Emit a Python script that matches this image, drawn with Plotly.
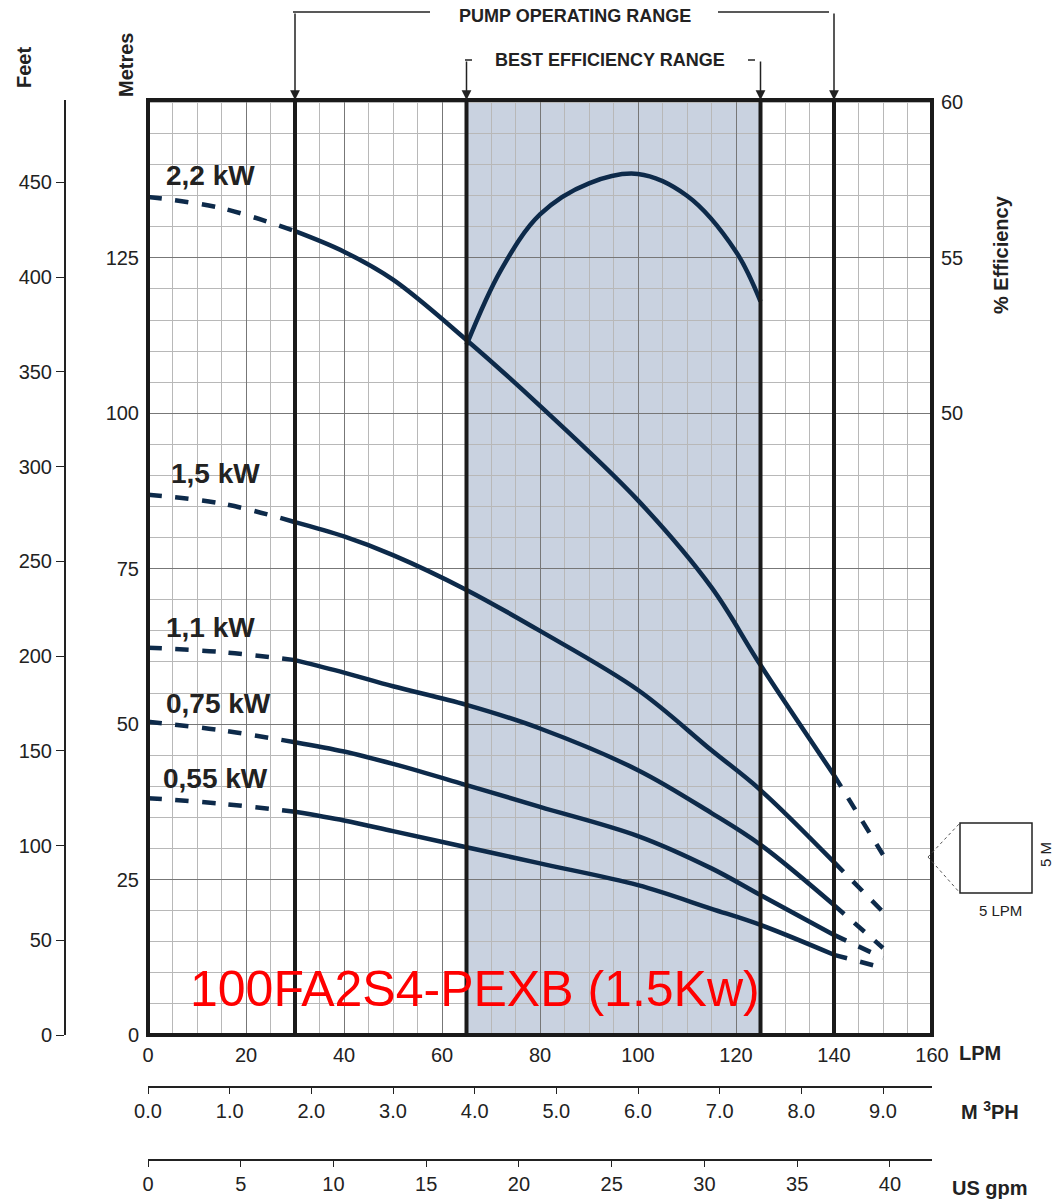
import plotly.graph_objects as go

# flow points (LPM) shared by all pump curves
lpm = [0, 15, 30, 40, 50, 65, 80, 100, 115, 125, 140, 150]

# head in metres per motor size
head_22 = [134.8, 133, 129.3, 126, 121.5, 111.8, 101.2, 86, 72, 59.5, 41.8, 29]
head_15 = [86.9, 85.5, 82.5, 80.2, 77.2, 71.6, 65, 55.5, 45.8, 39.4, 27.8, 19.8]
head_11 = [62.3, 61.6, 60.3, 58.3, 56.1, 53.1, 49.3, 42.6, 35.7, 30.6, 20.9, 14]
head_075 = [50.4, 49, 47.1, 45.6, 43.6, 40.2, 36.7, 32.0, 26.8, 22.5, 16.1, 12.4]
head_055 = [38.1, 37.2, 35.9, 34.5, 32.8, 30.2, 27.6, 24.1, 20.3, 17.7, 12.9, 10.8]
curve_names = ['2,2 kW', '1,5 kW', '1,1 kW', '0,75 kW', '0,55 kW']

# efficiency curve (%)
eff_lpm = [65, 72, 80, 90, 100, 110, 120, 125]
eff_pct = [52.2, 54.6, 56.4, 57.4, 57.7, 57.0, 55.2, 53.6]

# ranges (LPM)
operating_range = [30, 140]
best_range = [65, 125]

# label positions for the kW labels (LPM, metres)
label_x = [12.7, 13.7, 12.7, 14.3, 13.7]
label_y = [138.2, 90.4, 65.6, 53.4, 41.3]

feet_ticks = [0, 50, 100, 150, 200, 250, 300, 350, 400, 450]

navy = '#0d2a4a'
W, H = 1063, 1200
X0, X1, YT, YB = 148, 932, 100, 1035
OFF = 8  # page body margin


def px(x):
    return (x - OFF) / W


def py(y):
    return 1 - (y - OFF) / H


fig = go.Figure()

heads = [head_22, head_15, head_11, head_075, head_055]
for name, h in zip(curve_names, heads):
    # dashed start, solid middle, dashed end
    fig.add_trace(go.Scatter(x=lpm[:3], y=h[:3], mode='lines', line_shape='spline',
                             line=dict(color=navy, width=4.5, dash='dash')))
    fig.add_trace(go.Scatter(x=lpm[2:11], y=h[2:11], mode='lines', line_shape='spline',
                             line=dict(color=navy, width=4.5)))
    fig.add_trace(go.Scatter(x=lpm[10:], y=h[10:], mode='lines', line_shape='spline',
                             line=dict(color=navy, width=4.5, dash='dash')))

fig.add_trace(go.Scatter(x=eff_lpm, y=eff_pct, mode='lines', line_shape='spline',
                         line=dict(color=navy, width=4.5), yaxis='y3'))
# dummy traces so the extra axes render
fig.add_trace(go.Scatter(x=[0], y=[0], yaxis='y2', mode='markers', marker_opacity=0))
fig.add_trace(go.Scatter(x=[0], y=[0], xaxis='x2', mode='markers', marker_opacity=0))
fig.add_trace(go.Scatter(x=[0], y=[0], xaxis='x3', mode='markers', marker_opacity=0))

font = 'Liberation Sans, Arial, sans-serif'
tick_font = dict(family=font, size=20, color='#222')
grid_minor = dict(dtick=5, showgrid=True, gridcolor='#b8b8b8', gridwidth=1)

fig.update_layout(
    width=W, height=H, showlegend=False,
    margin=dict(l=0, r=0, t=0, b=0, pad=0),
    plot_bgcolor='white', paper_bgcolor='white',
    font=dict(family=font),
    xaxis=dict(domain=[px(X0), px(X1)], range=[0, 160], tickvals=list(range(0, 161, 20)),
               showgrid=True, gridcolor='#777', gridwidth=1, minor=grid_minor,
               zeroline=False, tickfont=tick_font, ticks='', ticklabelstandoff=6,
               automargin=False),
    xaxis2=dict(overlaying='x', anchor='free', position=py(1087), range=[0, 9.6],
                tickvals=list(range(0, 10)), tickformat='.1f', showline=True,
                linecolor='#222', linewidth=2, ticks='outside', ticklen=6,
                tickcolor='#222', showgrid=False, zeroline=False, side='bottom',
                tickfont=tick_font, automargin=False),
    xaxis3=dict(overlaying='x', anchor='free', position=py(1160), range=[0, 160 / 3.78541],
                tickvals=list(range(0, 41, 5)), showline=True, linecolor='#222',
                linewidth=2, ticks='outside', ticklen=6, tickcolor='#222',
                showgrid=False, zeroline=False, side='bottom', tickfont=tick_font,
                automargin=False),
    yaxis=dict(domain=[py(YB), py(YT)], range=[0, 150.4], tickvals=[0, 25, 50, 75, 100, 125],
               showgrid=True, gridcolor='#777', gridwidth=1, minor=grid_minor,
               zeroline=False, tickfont=tick_font, ticks='', ticklabelstandoff=8,
               automargin=False),
    yaxis2=dict(overlaying='y', anchor='free', position=px(65), side='left',
                range=[0, 150.4 / 0.3048], tickvals=feet_ticks, showline=True,
                linecolor='#222', linewidth=2, ticks='outside', ticklen=8,
                tickcolor='#222', showgrid=False, zeroline=False, tickfont=tick_font,
                automargin=False),
    yaxis3=dict(overlaying='y', anchor='x', side='right', range=[30, 60.08],
                tickvals=[50, 55, 60], showgrid=False, zeroline=False,
                tickfont=tick_font, ticks='', ticklabelstandoff=8, automargin=False),
)

shapes = [
    dict(type='rect', xref='x', yref='paper', x0=best_range[0], x1=best_range[1],
         y0=py(YB), y1=py(YT), fillcolor='#c9d2e0', line_width=0, layer='below'),
]
for v in operating_range + best_range:
    shapes.append(dict(type='line', xref='x', yref='paper', x0=v, x1=v,
                       y0=py(YB), y1=py(YT), line=dict(color='#1a1a1a', width=4)))
shapes.append(dict(type='rect', xref='paper', yref='paper', x0=px(X0), x1=px(X1),
                   y0=py(YB), y1=py(YT), line=dict(color='#1a1a1a', width=4)))
# bracket lines above the plot
for a, b, yy in [(293, 430, 12), (718, 829, 12), (465, 472, 60), (748, 755, 60)]:
    shapes.append(dict(type='line', xref='paper', yref='paper', x0=px(a), x1=px(b),
                       y0=py(yy), y1=py(yy), line=dict(color='#222', width=1.5)))
# scale box
shapes.append(dict(type='rect', xref='paper', yref='paper', x0=px(960), x1=px(1032),
                   y0=py(893), y1=py(823), line=dict(color='#222', width=1.5)))
for yy in [823, 893]:
    shapes.append(dict(type='line', xref='paper', yref='paper', x0=px(928), x1=px(960),
                       y0=py(857), y1=py(yy), line=dict(color='#555', width=1, dash='dot')))
fig.update_layout(shapes=shapes)

ann = []
for v, length in [(operating_range[0], 88), (operating_range[1], 88),
                  (best_range[0], 40), (best_range[1], 40)]:
    ann.append(dict(x=v, xref='x', y=py(YT), yref='paper', ax=0, ay=-length,
                    showarrow=True, arrowhead=2, arrowsize=1.3, arrowwidth=1.5,
                    arrowcolor='#222', text=''))
texts = [
    (575, 16, '<b>PUMP OPERATING RANGE</b>', 0, 18),
    (610, 60, '<b>BEST EFFICIENCY RANGE</b>', 0, 18),
    (24, 68, '<b>Feet</b>', -90, 20),
    (126, 65, '<b>Metres</b>', -90, 20),
    (1001, 255, '<b>% Efficiency</b>', -90, 20),
    (980, 1053, '<b>LPM</b>', 0, 20),
    (990, 1110, '<b>M <sup>3</sup>PH</b>', 0, 20),
    (990, 1188, '<b>US gpm</b>', 0, 20),
    (1045, 855, '5 M', -90, 15),
    (1000, 911, '5 LPM', 0, 15),
]
for x, y, t, ang, size in texts:
    ann.append(dict(x=px(x), y=py(y), xref='paper', yref='paper', showarrow=False,
                    text=t, textangle=ang, xanchor='center', yanchor='middle',
                    font=dict(size=size, color='#222')))
for name, x, y in zip(curve_names, label_x, label_y):
    ann.append(dict(x=x, y=y, xref='x', yref='y', showarrow=False, text='<b>%s</b>' % name,
                    xanchor='center', yanchor='middle', font=dict(size=28, color='#222')))
ann.append(dict(x=66.7, y=7.4, xref='x', yref='y', showarrow=False,
                xanchor='center', yanchor='middle',
                text='100FA2S4-PEXB (1.5Kw)', font=dict(size=50, color='#ff0000')))
fig.update_layout(annotations=ann)

fig.write_html("out.html")
